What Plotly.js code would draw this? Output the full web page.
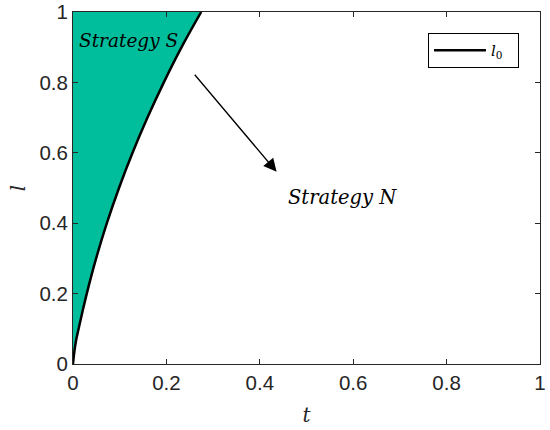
<!DOCTYPE html>
<html>
<head>
<meta charset="utf-8">
<script src="https://cdn.plot.ly/plotly-3.0.1.min.js"></script>
<style>html,body{margin:0;padding:0;background:#fff;}#chart{width:550px;height:430px;}</style>
</head>
<body>
<div id="chart"></div>
<script>
// Boundary curve l0 (t, l)
var curveT = [0, 0.002, 0.0045, 0.0078, 0.012, 0.0205, 0.0295, 0.0495, 0.0725, 0.0985, 0.1275, 0.1595, 0.1945, 0.2325, 0.2745];
var curveL = [0, 0.025, 0.05, 0.075, 0.1, 0.15, 0.2, 0.3, 0.4, 0.5, 0.6, 0.7, 0.8, 0.9, 1];
var seriesName = '<i>l</i><sub>0</sub>\u00a0\u00a0';
var regionLabels = ['Strategy S', 'Strategy N'];
var regionLabelT = [0.008, 0.456];
var regionLabelL = [0.92, 0.474];
var arrowFrom = [0.258, 0.826];
var arrowTo = [0.436, 0.546];
var xTicks = [0, 0.2, 0.4, 0.6, 0.8, 1];
var yTicks = [0, 0.2, 0.4, 0.6, 0.8, 1];

var fillColor = '#00BE9C';
var axisColor = '#262626';
var tickFont = {family: 'Liberation Sans, Arial, sans-serif', size: 20.5, color: axisColor};
var serifItalic = 'DejaVu Serif, serif';

var traces = [
  {x: curveT, y: curveL, type: 'scatter', mode: 'lines', fill: 'tozerox',
   fillcolor: fillColor, line: {width: 0, color: fillColor, shape: 'spline', smoothing: 1}, showlegend: false, hoverinfo: 'skip'},
  {x: curveT, y: curveL, type: 'scatter', mode: 'lines', name: seriesName,
   line: {color: '#000000', width: 2.5, shape: 'spline', smoothing: 1}}
];

var annotations = [
  {x: regionLabelT[0], y: regionLabelL[0], xref: 'x', yref: 'y', text: '<i>' + regionLabels[0] + '</i>',
   showarrow: false, xanchor: 'left', yanchor: 'middle', font: {family: serifItalic, size: 18.5, color: '#000'}},
  {x: regionLabelT[1], y: regionLabelL[1], xref: 'x', yref: 'y', text: '<i>' + regionLabels[1] + '</i>',
   showarrow: false, xanchor: 'left', yanchor: 'middle', font: {family: serifItalic, size: 19.5, color: '#000'}},
  {x: arrowTo[0], y: arrowTo[1], ax: arrowFrom[0], ay: arrowFrom[1], xref: 'x', yref: 'y', axref: 'x', ayref: 'y',
   text: '', showarrow: true, arrowhead: 2, arrowsize: 2, arrowwidth: 1.3, arrowcolor: '#000', standoff: 0}
];

var layout = {
  width: 550, height: 430,
  margin: {l: 73, r: 10, t: 12, b: 66},
  paper_bgcolor: '#fff', plot_bgcolor: '#fff',
  showlegend: true,
  legend: {x: 0.955, y: 0.94, xanchor: 'right', yanchor: 'top', bgcolor: '#fff',
           bordercolor: '#000', borderwidth: 1, itemwidth: 52, tracegroupgap: 0,
           font: {family: serifItalic, size: 15, color: '#000'}},
  xaxis: {range: [0, 1], tickvals: xTicks, ticktext: xTicks.map(String), ticks: 'inside', ticklen: 5,
          tickcolor: axisColor, showline: true, linecolor: axisColor, linewidth: 1, mirror: 'ticks',
          showgrid: false, zeroline: false, tickfont: tickFont,
          title: {text: '<i>t</i>', font: {family: serifItalic, size: 20, color: axisColor}, standoff: 15}},
  yaxis: {range: [0, 1], tickvals: yTicks, ticktext: yTicks.map(String), ticks: 'inside', ticklen: 5,
          tickcolor: axisColor, showline: true, linecolor: axisColor, linewidth: 1, mirror: 'ticks',
          showgrid: false, zeroline: false, tickfont: tickFont,
          title: {text: '<i>l</i>', font: {family: serifItalic, size: 20, color: axisColor}, standoff: 8}},
  annotations: annotations
};

Plotly.newPlot('chart', traces, layout, {displayModeBar: false, staticPlot: true});
</script>
</body>
</html>
